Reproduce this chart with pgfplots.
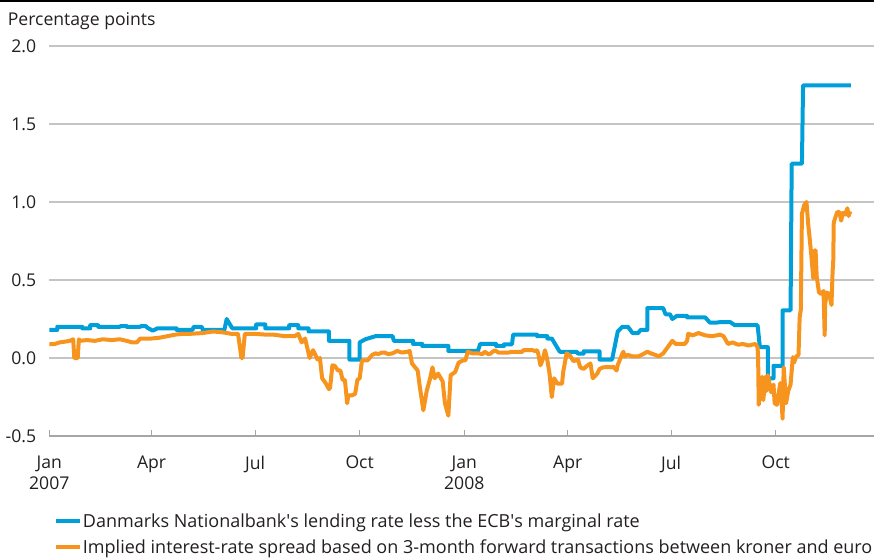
\documentclass[border=0pt]{standalone}
\usepackage{pgfplots}
\pgfplotsset{compat=1.18}
\usepackage{fontspec}
\setmainfont{Open Sans}
\definecolor{dnblue}{HTML}{009FDA}
\definecolor{dnorange}{HTML}{F7941D}
\definecolor{gridgrey}{HTML}{C4C4C4}
\definecolor{axisgrey}{HTML}{A6A6A6}
\definecolor{txt}{HTML}{231F20}
\begin{document}
\begin{tikzpicture}[x=1pt,y=1pt]
\useasboundingbox (0,0) rectangle (874,557);
\draw[black, line width=2pt] (0,556) -- (874,556);
\begin{axis}[
  at={(49.3pt,121pt)}, anchor=south west,
  scale only axis, width=824.7pt, height=390pt,
  xmin=0, xmax=725.4, ymin=-0.5, ymax=2,
  axis x line*=bottom, axis y line*=left,
  x axis line style={axisgrey, line width=1.2pt, -},
  y axis line style={draw=none},
  xtick={0,90,181,273,365,456,547,639},
  xticklabels={{Jan\\2007},Apr,Jul,Oct,{Jan\\2008},Apr,Jul,Oct},
  xtick style={axisgrey, line width=1pt},
  tick align=inside, major tick length=6pt,
  ytick={-0.5,0,0.5,1,1.5,2},
  yticklabels={-0.5,0.0,0.5,1.0,1.5,2.0},
  ytick style={draw=none},
  ymajorgrids, grid style={gridgrey, line width=1.3pt},
  yticklabel style={font=\fontsize{17.6}{21}\selectfont, text=txt, anchor=east, inner sep=0pt, xshift=-13pt},
  xticklabel style={font=\fontsize{17.6}{21}\selectfont, text=txt, align=center, anchor=north, inner sep=0pt, yshift=-20pt},
  every axis y label/.style={at={(rel axis cs:0,1)}, anchor=base west, xshift=-45pt, yshift=20pt, font=\fontsize{17.6}{21}\selectfont, text=txt},
  ylabel={Percentage points},
  legend style={at={(0.006,-0.196)}, anchor=north west, draw=none, fill=none, inner sep=0pt,
    font=\fontsize{18}{21}\selectfont, text=txt, row sep=8.5pt, nodes={inner sep=1pt}},
  legend cell align=left,
  legend image code/.code={\draw[#1, line width=3.5pt] (0pt,0pt) -- (24pt,0pt);},
]
\addplot[dnblue, line width=4pt, line join=round] coordinates {
(0,0.18) (7,0.18) (7,0.20) (29,0.20) (29,0.19) (36,0.19) (36,0.21) (43,0.21) (43,0.20) (62,0.20) (63,0.205) (68,0.205) (68,0.20) (80,0.20) (81,0.205) (85,0.205) (86,0.195) (91,0.175) (95,0.19) (112,0.19) (112,0.18) (126,0.18) (127,0.20) (134,0.20) (135,0.18) (154,0.18) (156,0.25) (161,0.19) (182,0.19) (182,0.215) (190,0.215) (190,0.19) (211,0.19) (211,0.21) (219,0.21) (219,0.19) (228,0.19) (228,0.17) (246,0.17) (246,0.11) (264,0.11) (264,-0.01) (273,-0.01) (273,0.10) (278,0.12) (287,0.14) (302,0.14) (303,0.11) (320,0.11) (320,0.09) (328,0.09) (328,0.077) (351,0.077) (351,0.045) (377,0.045) (379,0.09) (393,0.09) (393,0.077) (400,0.077) (400,0.088) (407,0.088) (408,0.15) (429,0.15) (429,0.14) (438,0.14) (438,0.125) (442,0.125) (449,0.04) (464,0.04) (465,0.028) (470,0.028) (470,0.043) (484,0.043) (484,-0.01) (495,-0.01) (500,0.17) (504,0.20) (509,0.20) (513,0.16) (518,0.16) (520,0.18) (526,0.18) (526,0.32) (540,0.32) (542,0.28) (546,0.28) (548,0.25) (552,0.27) (561,0.27) (561,0.26) (577,0.26) (581,0.227) (587,0.227) (590,0.23) (599,0.23) (603,0.21) (623,0.21) (625,0.07) (632,0.07) (632,-0.13) (637,-0.13) (637,-0.05) (645,-0.05) (645,0.305) (652,0.305) (653,1.246) (662,1.246) (663,1.748) (705,1.748)
};
\addlegendentry{Danmarks Nationalbank\textquotesingle s lending rate less the ECB\textquotesingle s marginal rate}
\addplot[dnorange, line width=4pt, line join=round] coordinates {
(0,0.088) (5,0.09) (9,0.10) (14,0.105) (18,0.11) (21,0.12) (22,0.0) (25,0.0) (26,0.12) (27,0.11) (33,0.115) (40,0.11) (47,0.12) (55,0.115) (62,0.12) (68,0.11) (73,0.10) (77,0.10) (80,0.125) (90,0.125) (97,0.13) (104,0.14) (111,0.15) (117,0.155) (124,0.155) (135,0.16) (144,0.17) (152,0.165) (160,0.155) (166,0.155) (169,0.0) (170,0.0) (172,0.155) (180,0.155) (190,0.15) (197,0.15) (207,0.14) (216,0.14) (219,0.155) (222,0.10) (225,0.125) (229,0.0) (232,0.05) (236,-0.01) (238,0.0) (240,-0.13) (243,-0.16) (246,-0.2)
(247,-0.19) (249,-0.047) (251,-0.05) (254,-0.08) (256,-0.08) (258,-0.14) (260,-0.14) (262,-0.29) (263,-0.24) (266,-0.24) (269,-0.23) (271,-0.14) (273,-0.13) (275,-0.015) (280,-0.015) (284,0.02) (287,0.03) (289,0.025) (293,0.035) (295,0.035) (298,0.025) (302,0.03) (306,0.045) (310,0.035) (315,0.04) (317,0.045) (319,-0.035) (324,-0.08) (326,-0.19) (329,-0.335) (332,-0.21) (335,-0.13) (337,-0.06) (339,-0.13) (342,-0.10) (346,-0.15) (348,-0.29) (351,-0.37) (353,-0.11) (357,-0.09) (360,-0.03) (364,-0.015) (366,-0.015)
(368,0.04) (372,0.03) (377,0.03) (381,0.025) (383,0.04) (386,0.025) (388,0.028) (390,0.04) (392,0.05) (395,0.035) (404,0.035) (407,0.04) (416,0.04) (417,0.05) (425,0.05) (427,0.045) (429,0.05) (430,0.03) (432,-0.047) (434,-0.01) (436,0.05) (438,-0.01) (440,-0.1) (442,-0.25) (444,-0.13) (447,-0.165) (451,-0.165) (452,-0.09) (455,0.03) (458,0.015) (461,-0.02) (465,-0.01) (467,-0.06) (470,-0.07) (473,-0.05) (476,-0.035) (478,-0.13) (482,-0.1) (484,-0.07) (487,-0.06) (491,-0.058)
(495,-0.06) (496,-0.055) (499,-0.08) (500,-0.045) (504,0.028) (505,0.04) (506,0.01) (509,0.02) (513,0.01) (518,0.01) (521,0.02) (526,0.04) (529,0.03) (533,0.02) (536,0.01) (540,0.03) (544,0.07) (548,0.11) (551,0.09) (559,0.09) (561,0.11) (562,0.155) (566,0.145) (571,0.16) (577,0.145) (583,0.14) (587,0.145) (590,0.15) (593,0.14) (597,0.09) (601,0.10) (606,0.085) (610,0.09) (615,0.08)
(621,0.09) (623,0.07) (623.5,-0.015) (624,-0.3) (627,-0.12) (628,-0.27) (630,-0.12) (631,-0.21) (632,-0.11) (635,-0.22) (637,-0.17) (638,-0.29) (640,-0.3) (641,-0.25) (643,-0.16) (645,-0.39) (645.5,-0.2) (646,-0.06) (648,-0.29) (650,-0.21) (652,-0.17) (654,0.006) (655,-0.03) (657,0.01) (659,0.02) (660,0.26) (661,0.31) (662,0.925) (664,0.98) (666,1.0) (667.5,0.86) (670,0.68) (672,0.51) (673,0.69) (674,0.69) (675,0.52) (677,0.42) (679,0.41) (681,0.43) (682,0.145) (682.5,0.35) (684,0.42) (686,0.41) (688,0.34) (689,0.56) (689.5,0.6) (690,0.87) (693,0.935) (695,0.935) (696.5,0.88) (698,0.93) (700,0.92) (702,0.96) (703,0.91) (704.5,0.94)
};
\addlegendentry{Implied interest-rate spread based on 3-month forward transactions between kroner and euro}
\end{axis}
\end{tikzpicture}
\end{document}
